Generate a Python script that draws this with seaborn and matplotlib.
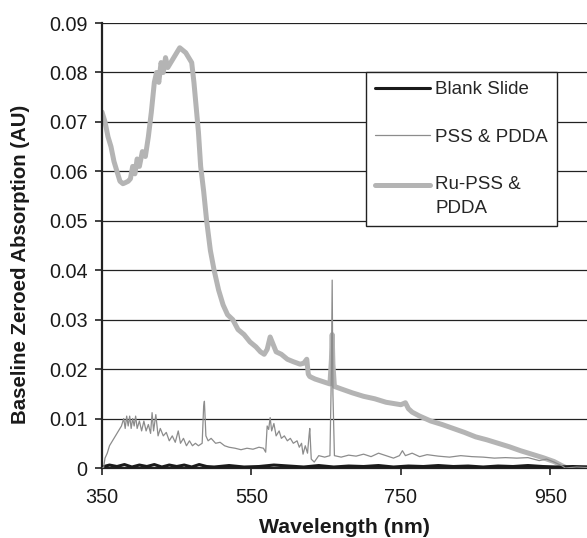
import matplotlib
matplotlib.use("Agg")
import matplotlib.pyplot as plt
import seaborn as sns
import pandas as pd

# ---------------- data ----------------
ru_wl = [350, 354, 358, 362, 366, 370, 374, 378, 381, 385, 388, 391, 394, 397, 400, 404, 408, 412, 416,
         420, 423, 426, 429, 432, 435, 438, 442, 446, 450, 454, 458, 462, 466, 470, 473, 476, 479, 482,
         486, 490, 495, 500, 506, 512, 518, 525, 532, 540, 548, 556, 562, 567, 571, 575, 579, 583, 590,
         598, 606, 615, 620, 624, 626, 628, 635, 645, 655, 657, 658, 659, 661, 670, 685, 700, 715, 730,
         742, 750, 756, 760, 765, 775, 790, 805, 820, 835, 850, 865, 880, 895, 910, 925, 940, 955, 965,
         972, 985, 1000]
ru_abs = [0.072, 0.070, 0.067, 0.065, 0.062, 0.060, 0.058, 0.0575, 0.0577, 0.058, 0.0585, 0.061, 0.0595,
          0.0625, 0.061, 0.064, 0.063, 0.067, 0.072, 0.078, 0.080, 0.078, 0.082, 0.080, 0.083, 0.081,
          0.082, 0.083, 0.084, 0.085, 0.0845, 0.084, 0.083, 0.082, 0.078, 0.073, 0.068, 0.061, 0.056,
          0.050, 0.044, 0.040, 0.036, 0.033, 0.031, 0.030, 0.028, 0.027, 0.0255, 0.0245, 0.0235, 0.023,
          0.024, 0.0265, 0.025, 0.0235, 0.023, 0.022, 0.0215, 0.021, 0.0212, 0.022, 0.019, 0.0185, 0.018,
          0.0175, 0.017, 0.022, 0.027, 0.021, 0.0165, 0.016, 0.0152, 0.0145, 0.014, 0.0133, 0.013, 0.0128,
          0.0132, 0.012, 0.0113, 0.0105, 0.0095, 0.0088, 0.008, 0.0072, 0.0063, 0.0057, 0.005, 0.0043,
          0.0035, 0.0028, 0.0021, 0.0013, 0.0005, 0.0, 0.0, 0.0001]

pss_wl = [350, 352, 354, 357, 360, 364, 368, 372, 376, 379, 381, 383, 385, 387, 389, 391, 393, 395, 397,
          400, 403, 406, 409, 412, 415, 417, 419, 422, 425, 428, 432, 436, 440, 444, 448, 452, 455, 459,
          463, 467, 471, 475, 479, 484, 486, 487, 489, 492, 496, 502, 508, 514, 520, 528, 536, 544, 552,
          560, 566, 569, 571, 573, 575, 577, 580, 583, 587, 590, 594, 598, 602, 606, 611, 614, 617, 619,
          622, 625, 627, 628, 630, 634, 640, 648, 655, 657, 658, 659, 661, 670, 680, 690, 700, 710, 720,
          730, 740, 748, 752, 756, 765, 775, 785, 800, 815, 830, 845, 860, 875, 890, 905, 920, 935, 945,
          955, 965, 970, 985, 1000]
pss_abs = [0.0, 0.0, 0.002, 0.003, 0.0045, 0.0055, 0.0065, 0.0075, 0.0085, 0.010, 0.008, 0.0105, 0.0085,
           0.0105, 0.008, 0.010, 0.0085, 0.0105, 0.008, 0.0095, 0.0075, 0.0095, 0.0075, 0.0088, 0.0070,
           0.0112, 0.0075, 0.0108, 0.0065, 0.008, 0.0065, 0.0072, 0.0055, 0.0065, 0.0052, 0.0075, 0.005,
           0.006, 0.0045, 0.0055, 0.0045, 0.005, 0.0045, 0.005, 0.0125, 0.0135, 0.0065, 0.0055, 0.006,
           0.005, 0.0052, 0.0045, 0.0042, 0.004, 0.0037, 0.0040, 0.0038, 0.0042, 0.0040, 0.0032, 0.0085,
           0.0078, 0.0102, 0.0075, 0.009, 0.0065, 0.0075, 0.006, 0.0065, 0.0055, 0.006, 0.005, 0.0055,
           0.0042, 0.0050, 0.0028, 0.0045, 0.003, 0.0065, 0.008, 0.0018, 0.0012, 0.0025, 0.0022, 0.0025,
           0.02, 0.038, 0.015, 0.0025, 0.0022, 0.0026, 0.0024, 0.0028, 0.0023, 0.003, 0.0025, 0.002,
           0.0025, 0.0035, 0.0025, 0.003, 0.0023, 0.0027, 0.0024, 0.0022, 0.0025, 0.0023, 0.0022, 0.002,
           0.0021, 0.002, 0.0021, 0.0015, 0.0018, 0.0012, 0.0005, 0.0, 0.0002, 0.0001]

blank_wl = [350, 360, 370, 380, 390, 400, 410, 420, 430, 440, 450, 460, 470, 480, 490, 500, 520, 540,
            560, 580, 600, 620, 640, 660, 680, 700, 720, 740, 760, 780, 800, 820, 840, 860, 880, 900,
            920, 940, 960, 980, 1000]
blank_abs = [0.0002, 0.0006, 0.0003, 0.0007, 0.0002, 0.0006, 0.0003, 0.0007, 0.0002, 0.0006, 0.0003,
             0.0006, 0.0002, 0.0007, 0.0003, 0.0002, 0.0005, 0.0002, 0.0003, 0.0006, 0.0004, 0.0002,
             0.0005, 0.0002, 0.0004, 0.0003, 0.0005, 0.0002, 0.0004, 0.0003, 0.0005, 0.0003, 0.0004,
             0.0002, 0.0004, 0.0003, 0.0005, 0.0003, 0.0002, 0.0003, 0.0002]

labels = ["Blank Slide", "PSS & PDDA", "Ru-PSS &\nPDDA"]
x_ticks = [350, 550, 750, 950]
y_ticks = [0, 0.01, 0.02, 0.03, 0.04, 0.05, 0.06, 0.07, 0.08, 0.09]
y_tick_labels = ["0", "0.01", "0.02", "0.03", "0.04", "0.05", "0.06", "0.07", "0.08", "0.09"]

# ---------------- plot ----------------
sns.set_style("white")
plt.rcParams["font.family"] = ["Liberation Sans", "DejaVu Sans"]

fig = plt.figure(figsize=(5.87, 5.38), dpi=100)
ax = fig.add_axes([0.1738, 0.1301, 0.8262, 0.8271])

df_blank = pd.DataFrame({"wl": blank_wl, "a": blank_abs})
df_pss = pd.DataFrame({"wl": pss_wl, "a": pss_abs})
df_ru = pd.DataFrame({"wl": ru_wl, "a": ru_abs})

sns.lineplot(data=df_blank, x="wl", y="a", ax=ax, color="#1a1a1a", linewidth=2.2,
             sort=False, estimator=None, label=labels[0], zorder=3)
sns.lineplot(data=df_pss, x="wl", y="a", ax=ax, color="#8c8c8c", linewidth=0.9,
             sort=False, estimator=None, label=labels[1], zorder=4)
sns.lineplot(data=df_ru, x="wl", y="a", ax=ax, color="#b4b4b4", linewidth=3.6,
             sort=False, estimator=None, label=labels[2], zorder=2)

ax.set_xlim(350, 999)
ax.set_ylim(0, 0.09)
ax.set_xticks(x_ticks)
ax.set_xticklabels([str(t) for t in x_ticks])
ax.set_yticks(y_ticks)
ax.set_yticklabels(y_tick_labels)

ax.yaxis.grid(True, color="#222222", linewidth=0.9)
ax.xaxis.grid(False)
ax.set_axisbelow(True)

for s in ["top", "right"]:
    ax.spines[s].set_visible(False)
ax.spines["left"].set_color("#222222")
ax.spines["left"].set_linewidth(1.6)
ax.spines["bottom"].set_color("#222222")
ax.spines["bottom"].set_linewidth(1.6)

ax.tick_params(axis="both", which="both", direction="out", length=5, width=1.2,
               colors="#222222", labelsize=14.3, labelcolor="#1a1a1a")
ax.tick_params(axis="x", pad=9.5, bottom=True)
ax.tick_params(axis="y", pad=5.5, left=True)

ax.set_xlabel("Wavelength (nm)", fontsize=15.3, fontweight="bold", color="#1a1a1a")
ax.set_ylabel("Baseline Zeroed Absorption (AU)", fontsize=14.7, fontweight="bold", color="#1a1a1a")
ax.xaxis.set_label_coords(0.5, -0.113)
ax.yaxis.set_label_coords(-0.148, 0.458)

leg = ax.legend(loc="upper left", bbox_to_anchor=(0.544, 0.890), fontsize=13.5,
                frameon=True, fancybox=False, edgecolor="#222222", framealpha=1,
                handlelength=2.9, labelspacing=1.62, borderpad=0.5, handletextpad=0.3,
                borderaxespad=0)
leg.get_frame().set_linewidth(1.0)
leg.get_texts()[2].set_linespacing(1.5)
# align the Ru handle with the first line of its two-line label
h = leg.legend_handles[2]
h.set_ydata([y + 8.5 for y in h.get_ydata()])

fig.savefig("out.png", dpi=100)
